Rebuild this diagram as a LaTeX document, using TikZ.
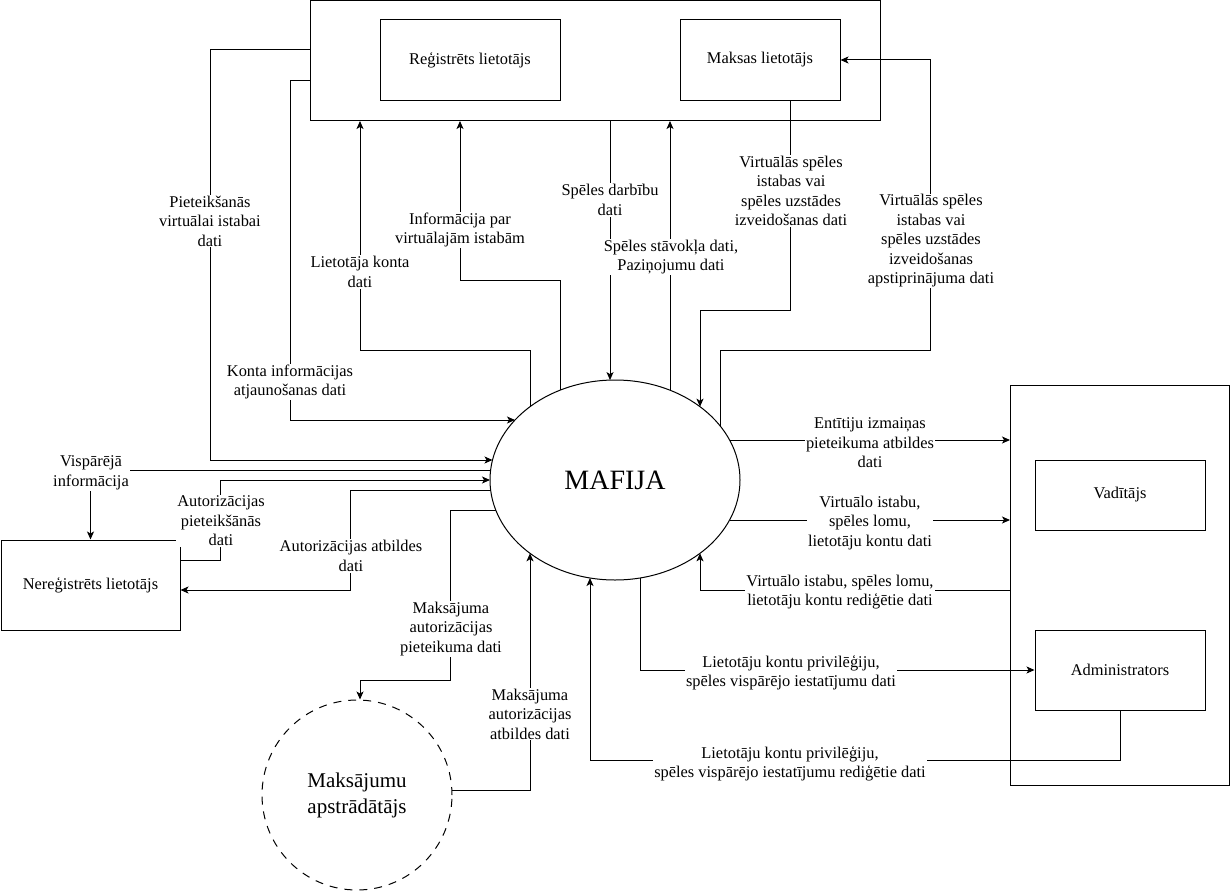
\documentclass[tikz,border=0pt]{standalone}
\usepackage{fontspec}
\setmainfont{Liberation Serif}
\usetikzlibrary{arrows.meta,shapes.geometric,calc}
\begin{document}
\begin{tikzpicture}[x=1pt,y=1pt,
  every node/.style={font=\fontsize{16.4}{19.5}\selectfont},
  box/.style={draw,line width=1pt,rectangle,inner sep=0pt,align=center},
  lbl/.style={fill=white,inner sep=1pt,align=center},
  ln/.style={line width=1pt},
  arr/.style={line width=1pt,-{Stealth[length=8pt,width=7pt,inset=2pt]}}]
\useasboundingbox (0,0) rectangle (1231,-891);
% entities
\node[box,minimum width=570,minimum height=119] (topgrp) at (595,-60.5) {};
\node[box,minimum width=180,minimum height=80] (reg) at (470,-60) {Reģistrēts lietotājs};
\node[box,minimum width=160,minimum height=80] (maks) at (760,-60) {Maksas lietotājs};
\node[box,minimum width=219,minimum height=400] (rgrp) at (1120,-585) {};
\node[box,minimum width=170,minimum height=70] (vad) at (1120,-495) {Vadītājs};
\node[box,minimum width=170,minimum height=80] (admin) at (1120,-670) {Administrators};
\node[box,minimum width=179,minimum height=90] (nereg) at (90.5,-585) {Nereģistrēts lietotājs};
\node[draw,line width=1pt,ellipse,minimum width=250,minimum height=200,inner sep=0pt,
  font=\fontsize{28}{32}\selectfont] (mafija) at (615,-480) {MAFIJA};
\node[draw,line width=1pt,circle,dash pattern=on 8pt off 7pt,minimum size=190,inner sep=0pt,
  align=center,font=\fontsize{21}{26}\selectfont] (payer) at (357,-795) {Maksājumu\\apstrādātājs};
% points on the ellipse border
\coordinate (eL460) at (492.5,-460);
\coordinate (eL420) at (515,-420);
\coordinate (eL470) at (490.6,-470);
\coordinate (eL480) at (490,-480);
\coordinate (eL490) at (490.6,-490);
\coordinate (eL510) at (495.8,-510);
\coordinate (eT530) at (530,-406.7);
\coordinate (eT560) at (560,-390.2);
\coordinate (eT610) at (610,-380.1);
\coordinate (eT670) at (670,-390.2);
\coordinate (eT700) at (700,-406.7);
\coordinate (eT720) at (720,-425.7);
\coordinate (eR440) at (729.6,-440);
\coordinate (eR520) at (729.6,-520);
\coordinate (eB700) at (700,-553.3);
\coordinate (eB640) at (640,-578);
\coordinate (eB590) at (590,-578);
\coordinate (eB530) at (530,-553.3);
% connectors
\draw[arr] (topgrp.west |- 0,-50) -| (210,-460) -- (eL460);
\draw[arr] (topgrp.west |- 0,-80) -| (290,-420) -- (eL420);
\draw[arr] (eT530) |- (360,-350) -- (360,-121);
\draw[arr] (eT560) |- (460,-280) -- (460,-121);
\draw[arr] (topgrp.south -| 610,0) -- (eT610);
\draw[arr] (eT670) -- (670,-121);
\draw[arr] (maks.south -| 790,0) |- (700,-310) -- (eT700);
\draw[arr] (eT720) |- (930,-350) |- (maks.east);
\draw[arr] (eR440) -- (rgrp.west |- 0,-440);
\draw[arr] (eR520) -- (rgrp.west |- 0,-520);
\draw[arr] (rgrp.west |- 0,-590) -| (eB700);
\draw[arr] (eB640) |- (admin.west);
\draw[arr] (admin.south) |- (590,-760) -- (eB590);
\draw[arr] (eL470) -| (nereg.north);
\draw[arr] (nereg.east |- 0,-560) -| (220,-480) -- (eL480);
\draw[arr] (eL490) -| (350,-590) -- (nereg.east |- 0,-590);
\draw[arr] (eL510) -| (450,-680) -| (payer.north -| 360,0);
\draw[arr] (payer.3) -| (eB530);
% labels
\node[lbl] (l1) at (210,-221) {Pieteikšanās\\virtuālai istabai\\dati};
\node[lbl] (l2) at (290,-382) {Konta informācijas\\atjaunošanas dati};
\node[lbl] (l3) at (360,-272) {Lietotāja konta\\dati};
\node[lbl] (l4) at (460,-230) {Informācija par\\virtuālajām istabām};
\node[lbl] (l5) at (610,-200) {Spēles darbību\\dati};
\node[lbl] (l6) at (671,-257) {Spēles stāvokļa dati,\\Paziņojumu dati};
\node[lbl] (l7) at (791,-191) {Virtuālās spēles\\istabas vai\\spēles uzstādes\\izveidošanas dati};
\node[lbl] (l8) at (931,-241) {Virtuālās spēles\\istabas vai\\spēles uzstādes\\izveidošanas\\apstiprinājuma dati};
\node[lbl] (l9) at (870,-443) {Entītiju izmaiņas\\pieteikuma atbildes\\dati};
\node[lbl] (l10) at (870,-523) {Virtuālo istabu,\\spēles lomu,\\lietotāju kontu dati};
\node[lbl] (l11) at (840,-592) {Virtuālo istabu, spēles lomu,\\lietotāju kontu rediģētie dati};
\node[lbl] (l12) at (791,-673) {Lietotāju kontu privilēģiju,\\spēles vispārējo iestatījumu dati};
\node[lbl] (l13) at (790,-764) {Lietotāju kontu privilēģiju,\\spēles vispārējo iestatījumu rediģētie dati};
\node[lbl] (l14) at (91,-473) {Vispārējā\\informācija};
\node[lbl] (l15) at (221,-521) {Autorizācijas\\pieteikšānās\\dati};
\node[lbl] (l16) at (351,-556) {Autorizācijas atbildes\\dati};
\node[lbl] (l17) at (451,-629) {Maksājuma\\autorizācijas\\pieteikuma dati};
\node[lbl] (l18) at (530,-714) {Maksājuma\\autorizācijas\\atbildes dati};
\end{tikzpicture}
\end{document}
